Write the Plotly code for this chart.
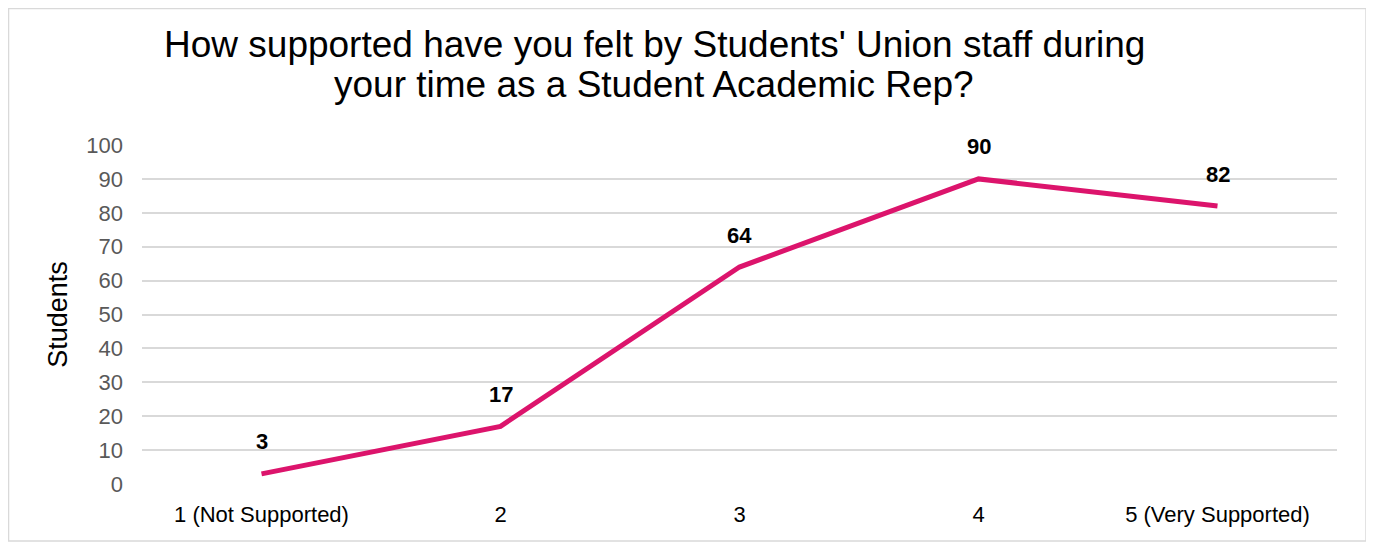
import plotly.graph_objects as go

# data
categories = ['1 (Not Supported)', '2', '3', '4', '5 (Very Supported)']
students = [3, 17, 64, 90, 82]
y_ticks = [0, 10, 20, 30, 40, 50, 60, 70, 80, 90, 100]
title_lines = ["How supported have you felt by Students' Union staff during",
               "your time as a Student Academic Rep?"]

line_col = '#DC146C'
font_fam = 'Liberation Sans, Arial'

fig = go.Figure()
fig.add_trace(go.Scatter(x=categories, y=students, mode='lines',
                         line=dict(color=line_col, width=5),
                         hoverinfo='x+y', showlegend=False))

# data labels sitting above each point (x given as category index)
for i, v in enumerate(students):
    fig.add_annotation(x=i, y=v, text=str(v), showarrow=False, yshift=32,
                       font=dict(family=font_fam, size=22, color='black', weight='bold'))

# two-line title, done as annotations so the line gap stays tight
for txt, ty in zip(title_lines, [1.295, 1.177]):
    fig.add_annotation(text=txt, xref='paper', yref='paper', x=0.4285, y=ty,
                       xanchor='center', yanchor='middle', showarrow=False,
                       font=dict(family=font_fam, size=37, color='black'))

# light frame round the chart
fig.add_shape(type='rect', xref='paper', yref='paper',
              x0=-0.1117, x1=1.0243, y0=-0.168, y1=1.4027,
              line=dict(color='#D9D9D9', width=1.5), layer='below')

fig.update_layout(
    width=1374, height=542,
    margin=dict(l=134, r=45, t=137, b=66),
    plot_bgcolor='white', paper_bgcolor='white',
    font=dict(family=font_fam),
)
fig.update_xaxes(type='category', range=[-0.5, 4.5], automargin=False,
                 showgrid=False, showline=False, zeroline=False,
                 tickfont=dict(size=22, color='black'), ticks='', ticklabelstandoff=15)
fig.update_yaxes(range=[0, 100], tickvals=y_ticks, automargin=False,
                 showgrid=True, gridcolor='#D9D9D9', gridwidth=1.5,
                 zeroline=False, showline=False, tickfont=dict(size=22, color='#595959'),
                 ticks='', ticklabelstandoff=18,
                 title=dict(text='Students', font=dict(size=27, color='black'), standoff=10))

fig.write_html("out.html")
